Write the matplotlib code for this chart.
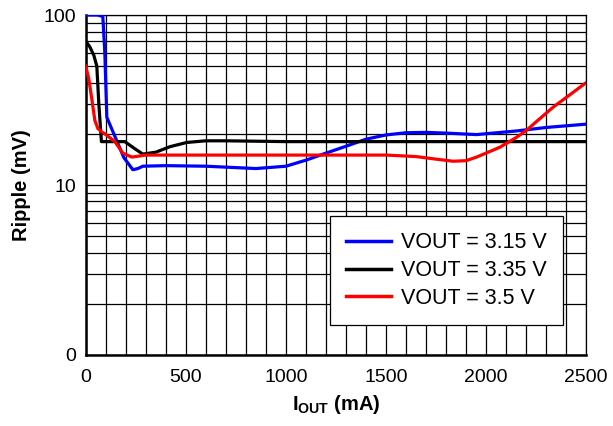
import matplotlib
matplotlib.use("Agg")

import numpy as np
import matplotlib.pyplot as plt
from matplotlib.ticker import MultipleLocator, LogLocator, NullFormatter

plt.rcParams['font.family'] = ['Liberation Sans', 'DejaVu Sans']
plt.rcParams['mathtext.fontset'] = 'custom'
plt.rcParams['mathtext.rm'] = 'Liberation Sans'
plt.rcParams['mathtext.bf'] = 'Liberation Sans:bold'

# data (IOUT in mA, ripple in mV)
x_315 = [0, 20, 60, 85, 95, 105, 140, 190, 235, 260, 285, 400, 600, 850, 1000, 1100, 1200,
         1300, 1400, 1500, 1600, 1700, 1800, 1953, 2153, 2300, 2500]
y_315 = [100, 100, 100, 98, 60, 25, 20, 14.5, 12.3, 12.5, 12.9, 13.0, 12.9, 12.5, 12.9, 14.0, 15.4,
         16.9, 18.6, 19.7, 20.3, 20.4, 20.2, 19.8, 20.8, 21.8, 22.8]

x_335 = [0, 20, 40, 55, 65, 78, 120, 195, 240, 285, 350, 420, 505, 600, 700, 1000, 1500, 2000, 2500]
y_335 = [70, 65, 58, 50, 30, 18.0, 18.0, 18.0, 16.5, 15.2, 15.6, 16.8, 17.8, 18.2, 18.2, 18.0, 18.0,
         18.0, 18.0]

x_35 = [0, 15, 30, 45, 60, 80, 95, 145, 185, 230, 300, 600, 1000, 1503, 1650, 1750, 1835, 1900,
        1953, 2000, 2070, 2150, 2203, 2250, 2337, 2420, 2500]
y_35 = [50, 42, 32, 24, 21.5, 20.5, 20, 18, 15.4, 14.6, 15.0, 15.0, 15.0, 15.0, 14.7, 14.2, 13.8,
        13.9, 14.6, 15.4, 16.7, 19.0, 21, 23.5, 28.8, 34, 40]

labels = ["VOUT = 3.15 V", "VOUT = 3.35 V", "VOUT = 3.5 V"]
colors = ["#0000ff", "#000000", "#ff0000"]

fig = plt.figure(figsize=(6.13, 4.26), dpi=100)
ax = fig.add_axes([0.140, 0.1667, 0.816, 0.798])

for xs, ys, lab, c in zip([x_315, x_335, x_35], [y_315, y_335, y_35], labels, colors):
    ax.plot(xs, ys, color=c, linewidth=2.3, label=lab, solid_joinstyle='round', zorder=3)

ax.set_yscale('log')
ax.set_xlim(0, 2500)
ax.set_ylim(1, 100)

ax.xaxis.set_major_locator(MultipleLocator(500))
ax.xaxis.set_minor_locator(MultipleLocator(100))
ax.set_yticks([1, 10, 100], ['0', '10', '100'])
ax.yaxis.set_minor_locator(LogLocator(base=10, subs=np.arange(2, 10)))
ax.yaxis.set_minor_formatter(NullFormatter())

ax.grid(True, which='both', color='black', linewidth=0.9)
ax.tick_params(which='both', length=0, labelsize=14)
ax.tick_params(axis='y', pad=7)
ax.tick_params(axis='x', pad=10)

for side in ['left', 'bottom']:
    ax.spines[side].set_linewidth(1.8)
for side in ['top', 'right']:
    ax.spines[side].set_linewidth(0.9)

ax.set_xlabel(r"$\mathbf{I}_{\mathbf{OUT}}$ (mA)", fontsize=14.5, fontweight='bold', labelpad=5)
ax.set_ylabel("Ripple (mV)", fontsize=14.5, fontweight='bold', labelpad=9)

leg = ax.legend(loc='lower right', bbox_to_anchor=(0.954, 0.088), fontsize=15.5,
                fancybox=False, framealpha=1, edgecolor='black', handlelength=2.1,
                handletextpad=0.45, borderpad=0.75, labelspacing=0.32, borderaxespad=0)
leg.get_frame().set_linewidth(0.9)
for line in leg.get_lines():
    line.set_linewidth(2.5)

plt.savefig("out.png", dpi=100)
